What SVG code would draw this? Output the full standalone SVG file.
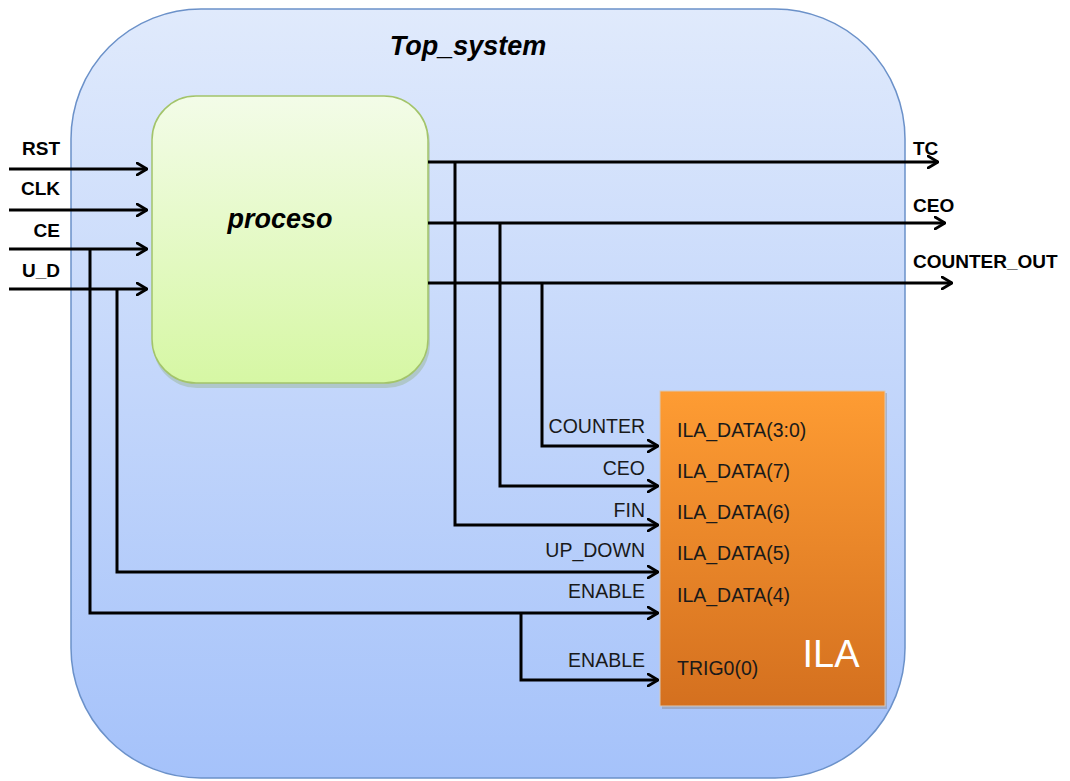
<svg xmlns="http://www.w3.org/2000/svg" width="1070" height="781" viewBox="0 0 1070 781">
<defs>
<linearGradient id="gOuter" x1="0" y1="0" x2="0" y2="1">
<stop offset="0" stop-color="#e0eafc"/>
<stop offset="1" stop-color="#a5c2fa"/>
</linearGradient>
<linearGradient id="gProc" x1="0" y1="0" x2="0" y2="1">
<stop offset="0" stop-color="#f3fce8"/>
<stop offset="1" stop-color="#d6f7a4"/>
</linearGradient>
<linearGradient id="gIla" x1="0" y1="0" x2="0" y2="1">
<stop offset="0" stop-color="#fe9c33"/>
<stop offset="1" stop-color="#d4701f"/>
</linearGradient>
<marker id="arr" viewBox="0 0 12 14" refX="11" refY="7" markerWidth="12" markerHeight="14" markerUnits="userSpaceOnUse" orient="auto">
<path d="M1,1 L11,7 L1,13" fill="none" stroke="#000" stroke-width="2.8" stroke-linecap="round" stroke-linejoin="round"/>
</marker>
</defs>
<style>
.w{fill:none;stroke:#000;stroke-width:3;}
.a{marker-end:url(#arr);}
.bl{font-family:"Liberation Sans",Arial,sans-serif;font-weight:bold;font-size:19px;fill:#000;}
.lb{font-family:"Liberation Sans",Arial,sans-serif;font-size:19.5px;fill:#1a1a1a;}
.tt{font-family:"Liberation Sans",Arial,sans-serif;font-weight:bold;font-style:italic;font-size:27px;fill:#000;}
</style>
<rect x="0" y="0" width="1070" height="781" fill="#ffffff"/>
<g id="top_system">
<rect x="71" y="9" width="834" height="769" rx="130" ry="130" fill="url(#gOuter)" stroke="#6b91c9" stroke-width="1.5"/>
<text class="tt" x="468" y="55" text-anchor="middle">Top_system</text>
</g>
<g id="proceso">
<rect x="153" y="98" width="277" height="288" rx="44" ry="44" fill="#8aa870" opacity="0.35" transform="translate(0,2)"/>
<rect x="152" y="96" width="276" height="287" rx="44" ry="44" fill="url(#gProc)" stroke="#a3c46a" stroke-width="1.5"/>
<text class="tt" x="280" y="228" text-anchor="middle">proceso</text>
</g>
<g id="ila">
<rect x="662" y="393" width="225" height="316" fill="#7a6a5a" opacity="0.3"/>
<rect x="660" y="391" width="225" height="315" fill="url(#gIla)" stroke="#d8c8b8" stroke-width="1"/>
<text class="lb" x="677" y="437">ILA_DATA(3:0)</text>
<text class="lb" x="677" y="478">ILA_DATA(7)</text>
<text class="lb" x="677" y="519">ILA_DATA(6)</text>
<text class="lb" x="677" y="560">ILA_DATA(5)</text>
<text class="lb" x="677" y="602">ILA_DATA(4)</text>
<text class="lb" x="677" y="675">TRIG0(0)</text>
<text x="831" y="667" text-anchor="middle" font-family="Liberation Sans, Arial, sans-serif" font-size="38" fill="#ffffff">ILA</text>
</g>
<g id="connectors">
<line class="w a" x1="9" y1="169" x2="147" y2="169"/>
<line class="w a" x1="9" y1="210" x2="147" y2="210"/>
<line class="w a" x1="9" y1="249" x2="147" y2="249"/>
<line class="w a" x1="9" y1="289" x2="147" y2="289"/>
<line class="w a" x1="428" y1="162" x2="938" y2="162"/>
<line class="w a" x1="428" y1="223" x2="945" y2="223"/>
<line class="w a" x1="428" y1="283" x2="952" y2="283"/>
<polyline class="w a" points="542,283 542,446 658,446"/>
<polyline class="w a" points="500,223 500,486 658,486"/>
<polyline class="w a" points="455,162 455,525 658,525"/>
<polyline class="w a" points="117,289 117,572 658,572"/>
<polyline class="w a" points="90,249 90,613 658,613"/>
<polyline class="w a" points="521,613 521,680 658,680"/>
</g>
<g id="labels">
<text class="bl" x="60" y="155" text-anchor="end">RST</text>
<text class="bl" x="60" y="195" text-anchor="end">CLK</text>
<text class="bl" x="60" y="237" text-anchor="end">CE</text>
<text class="bl" x="60" y="277" text-anchor="end">U_D</text>
<text class="bl" x="913" y="155">TC</text>
<text class="bl" x="913" y="212">CEO</text>
<text class="bl" x="913" y="268">COUNTER_OUT</text>
<text class="lb" x="645" y="433" text-anchor="end">COUNTER</text>
<text class="lb" x="645" y="475" text-anchor="end">CEO</text>
<text class="lb" x="645" y="517" text-anchor="end">FIN</text>
<text class="lb" x="645" y="557" text-anchor="end">UP_DOWN</text>
<text class="lb" x="645" y="598" text-anchor="end">ENABLE</text>
<text class="lb" x="645" y="667" text-anchor="end">ENABLE</text>
</g>
</svg>
